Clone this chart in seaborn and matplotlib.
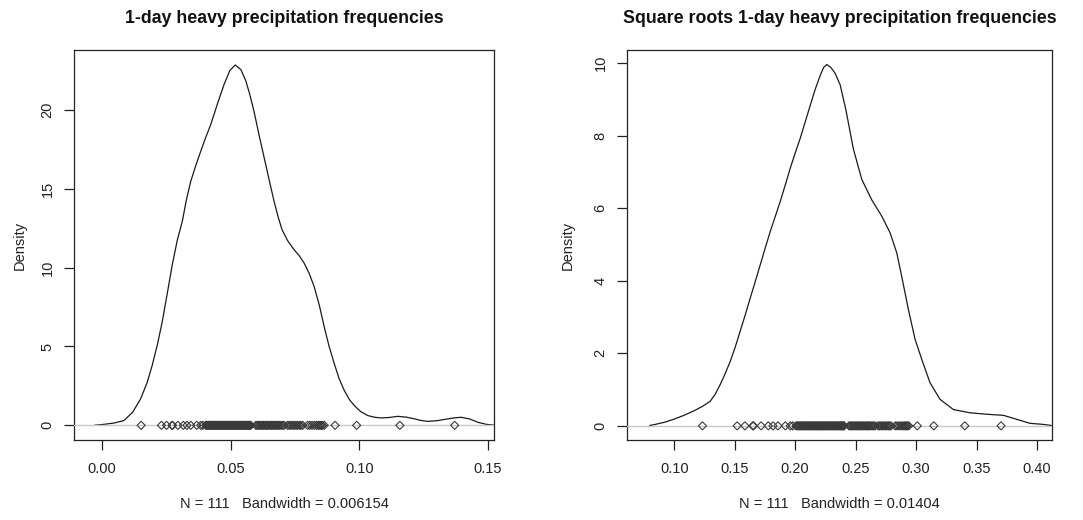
import numpy as np
import pandas as pd
import matplotlib
matplotlib.use("Agg")
import matplotlib.pyplot as plt
import seaborn as sns

# ---------------- data ----------------
# observed 1-day heavy precipitation frequencies (rug points), N = 111
freq_obs = [
    0.0152, 0.0231, 0.0251, 0.0272, 0.0274, 0.0295, 0.0316, 0.0330, 0.0345, 0.0368,
    0.0384, 0.0392,
    0.0403, 0.0407, 0.0410, 0.0414, 0.0418, 0.0421, 0.0425, 0.0428, 0.0432, 0.0435,
    0.0439, 0.0442, 0.0446, 0.0449, 0.0452, 0.0456, 0.0459, 0.0462, 0.0466, 0.0469,
    0.0472, 0.0476, 0.0479, 0.0482, 0.0486, 0.0489, 0.0492, 0.0495, 0.0499, 0.0502,
    0.0505, 0.0509, 0.0512, 0.0515, 0.0519, 0.0522, 0.0526, 0.0529, 0.0533, 0.0536,
    0.0540, 0.0543, 0.0547, 0.0550, 0.0554, 0.0557, 0.0561, 0.0564, 0.0568, 0.0571,
    0.0574, 0.0576, 0.0578,
    0.0598, 0.0603, 0.0608, 0.0613, 0.0618, 0.0623, 0.0628, 0.0634, 0.0639, 0.0644,
    0.0649, 0.0654, 0.0659, 0.0664, 0.0669, 0.0674, 0.0679, 0.0684, 0.0690, 0.0696,
    0.0702, 0.0708,
    0.0721, 0.0728, 0.0734, 0.0741, 0.0747, 0.0754, 0.0760, 0.0767, 0.0773, 0.0780,
    0.0799, 0.0808, 0.0817, 0.0826, 0.0834, 0.0841, 0.0847, 0.0852, 0.0857, 0.0864,
    0.0906, 0.0990, 0.1158, 0.1371,
]
# second panel shows the square roots of the same observations
sqrt_obs = np.sqrt(freq_obs)

# density curve of the frequencies (x, density)
dens1_x = [-0.0028, 0.0001, 0.0045, 0.0085, 0.0120, 0.0150, 0.0175, 0.0195, 0.0215,
           0.0234, 0.0254, 0.0273, 0.0292, 0.0312, 0.0328, 0.0345, 0.0365, 0.0384,
           0.0403, 0.0423, 0.0450, 0.0475, 0.0497, 0.0518, 0.0540, 0.0559, 0.0575,
           0.0591, 0.0610, 0.0630, 0.0650, 0.0669, 0.0685, 0.0700, 0.0722, 0.0747,
           0.0767, 0.0786, 0.0805, 0.0825, 0.0845, 0.0864, 0.0883, 0.0903, 0.0922,
           0.0942, 0.0961, 0.0981, 0.1005, 0.1033, 0.1060, 0.1085, 0.1118, 0.1150,
           0.1183, 0.1215, 0.1240, 0.1267, 0.1305, 0.1345, 0.1372, 0.1397, 0.1430,
           0.1462, 0.1495, 0.1526]
dens1_y = [0.01, 0.05, 0.14, 0.30, 0.85, 1.68, 2.70, 3.80, 5.10,
           6.56, 8.40, 10.17, 11.70, 12.93, 14.30, 15.48, 16.50, 17.39,
           18.25, 19.09, 20.45, 21.64, 22.50, 22.85, 22.55, 21.85, 20.95,
           19.90, 18.45, 17.00, 15.55, 14.20, 13.20, 12.40, 11.70, 11.13,
           10.75, 10.28, 9.65, 8.79, 7.60, 6.24, 5.00, 3.91, 2.95,
           2.21, 1.65, 1.25, 0.88, 0.62, 0.51, 0.47, 0.50, 0.57,
           0.52, 0.41, 0.31, 0.25, 0.30, 0.41, 0.48, 0.51, 0.40,
           0.19, 0.06, 0.01]

# density curve of the square roots (x, density)
dens2_x = [0.0796, 0.0843, 0.0920, 0.0994, 0.1080, 0.1160, 0.1230, 0.1298, 0.1340,
           0.1380, 0.1420, 0.1463, 0.1505, 0.1545, 0.1587, 0.1628, 0.1670, 0.1711,
           0.1752, 0.1793, 0.1835, 0.1876, 0.1918, 0.1959, 0.2000, 0.2041, 0.2083,
           0.2124, 0.2165, 0.2207, 0.2235, 0.2262, 0.2295, 0.2330, 0.2372, 0.2420,
           0.2480, 0.2550, 0.2633, 0.2716, 0.2785, 0.2840, 0.2881, 0.2936, 0.2992,
           0.3047, 0.3115, 0.3198, 0.3308, 0.3446, 0.3584, 0.3722, 0.3832, 0.3942,
           0.4052, 0.4120]
dens2_y = [0.01, 0.04, 0.10, 0.18, 0.29, 0.41, 0.53, 0.68, 0.88,
           1.14, 1.43, 1.78, 2.18, 2.61, 3.06, 3.52, 3.98, 4.44,
           4.90, 5.35, 5.77, 6.18, 6.64, 7.10, 7.52, 7.92, 8.38,
           8.83, 9.27, 9.66, 9.88, 9.96, 9.88, 9.72, 9.40, 8.70,
           7.65, 6.80, 6.23, 5.78, 5.32, 4.77, 4.12, 3.21, 2.38,
           1.83, 1.19, 0.73, 0.45, 0.36, 0.32, 0.29, 0.18, 0.07,
           0.04, 0.01]

titles = ["1-day heavy precipitation frequencies",
          "Square roots 1-day heavy precipitation frequencies"]
xlabels = ["N = 111   Bandwidth = 0.006154", "N = 111   Bandwidth = 0.01404"]
xticks1 = [0.00, 0.05, 0.10, 0.15]
xticks2 = [0.10, 0.15, 0.20, 0.25, 0.30, 0.35, 0.40]
yticks1 = [0, 5, 10, 15, 20]
yticks2 = [0, 2, 4, 6, 8, 10]

# ---------------- drawing ----------------
sns.set_style("ticks")
plt.rcParams["font.family"] = ["Liberation Sans", "DejaVu Sans"]

W, H = 1083, 520
fig = plt.figure(figsize=(W / 100, H / 100), dpi=100)
fig.patch.set_facecolor("white")

panels = [
    dict(box=(74, 50, 494, 440), curve=(dens1_x, dens1_y), rug=freq_obs,
         xlim=(-0.0109, 0.1524), ylim=(-0.93, 23.8), xticks=xticks1,
         yticks=yticks1, title=titles[0], xlabel=xlabels[0], ylab_x=20),
    dict(box=(627, 50, 1052, 440), curve=(dens2_x, dens2_y), rug=sqrt_obs,
         xlim=(0.0609, 0.4124), ylim=(-0.39, 10.36), xticks=xticks2,
         yticks=yticks2, title=titles[1], xlabel=xlabels[1], ylab_x=568),
]

edge = "#222222"
for p in panels:
    x0, y0, x1, y1 = p["box"]
    ax = fig.add_axes([x0 / W, 1 - y1 / H, (x1 - x0) / W, (y1 - y0) / H])
    ax.set_facecolor("white")
    cx, cy = p["curve"]
    df = pd.DataFrame({"x": cx, "y": cy})
    sns.lineplot(data=df, x="x", y="y", ax=ax, color="#1a1a1a", lw=0.9,
                 sort=False, estimator=None, zorder=2)
    ax.axhline(0, color="#c8c8c8", lw=1.0, zorder=3)
    rug = pd.DataFrame({"x": list(p["rug"]), "y": [0.0] * len(p["rug"])})
    sns.scatterplot(data=rug, x="x", y="y", ax=ax, marker="D", s=17,
                    facecolor="none", edgecolor="#3a3a3a", linewidth=0.8,
                    zorder=4)
    ax.set_xlim(*p["xlim"])
    ax.set_ylim(*p["ylim"])
    ax.set_xticks(p["xticks"])
    ax.set_xticklabels(["{:.2f}".format(v) for v in p["xticks"]])
    ax.set_yticks(p["yticks"])
    ax.set_yticklabels([str(v) for v in p["yticks"]], rotation=90, va="center")
    ax.tick_params(axis="both", direction="out", length=7, width=0.9,
                   color=edge, labelsize=10.5, labelcolor="#222222")
    ax.tick_params(axis="x", pad=9)
    ax.tick_params(axis="y", pad=7)
    ax.set_xlabel("")
    ax.set_ylabel("")
    for s in ax.spines.values():
        s.set_visible(True)
        s.set_color(edge)
        s.set_linewidth(0.9)
    cxm = (x0 + x1) / 2 / W
    fig.text(cxm, 1 - 23 / H, p["title"], ha="center", va="baseline",
             fontsize=12.8, fontweight="bold", color="#111111")
    fig.text(cxm, 1 - 504 / H, p["xlabel"], ha="center", va="center",
             fontsize=10.5, color="#222222")
    fig.text(p["ylab_x"] / W, 1 - ((y0 + y1) / 2) / H, "Density", rotation=90,
             ha="center", va="center", fontsize=10.5, color="#222222")

fig.savefig("out.png", dpi=100, facecolor="white")
